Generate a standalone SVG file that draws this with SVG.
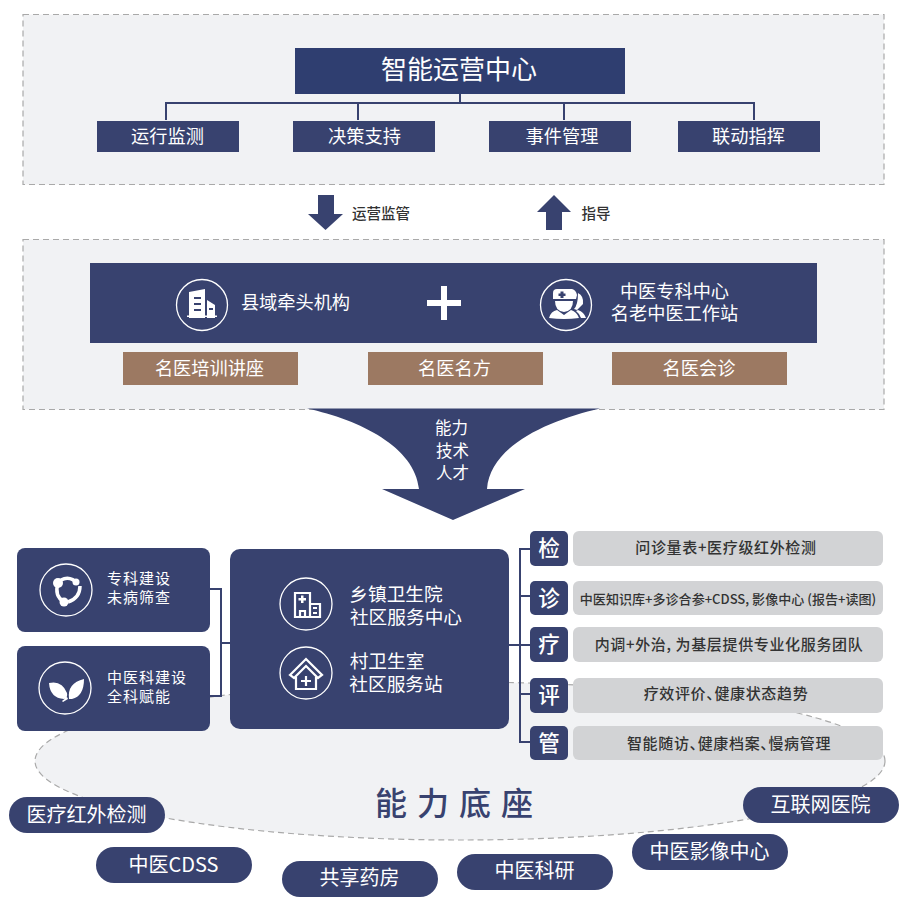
<svg xmlns="http://www.w3.org/2000/svg" width="912" height="916" viewBox="0 0 912 916">
<style>
text{font-family:"Noto Sans CJK SC","Noto Sans",sans-serif;text-anchor:middle;fill:#fff}
.panel{fill:#f1f2f4;stroke:#a9a9a9;stroke-width:1.2;stroke-dasharray:6 4}
.navy{fill:#38426f}
.brown{fill:#9c7962}
.grey{fill:#d2d3d5}
.conn{fill:none;stroke:#38426f;stroke-width:2}
.ring{fill:none;stroke:#fff;stroke-width:1.3}
.iconl{fill:none;stroke:#fff;stroke-width:2.2}
.iconf{fill:#fff}
.t18{font-size:18.200px}
.t187{font-size:18.700px}
.t15{font-size:15px;letter-spacing:1px}
.g{fill:#333;font-size:15px;font-weight:500;letter-spacing:.65px;font-feature-settings:"palt"}
.dk{fill:#333;font-size:13.050px;font-weight:500;font-feature-settings:"palt"}
.sq{font-size:21.500px;font-weight:500}
.pill{font-size:20px}
.lbl{fill:#333;font-size:14.500px;font-weight:500}
</style>
<rect class="panel" x="23" y="14.500" width="861" height="170"/>
<rect class="panel" x="23" y="239.500" width="861" height="170"/>
<ellipse class="panel" cx="460" cy="761" rx="425" ry="79"/>
<g id="connectors">
<path class="conn" d="M460 94V103M166 120V103H754V120M358 103V120M564 103V120"/>
<path class="conn" d="M210 589H221V696H210M221 643H230"/>
<path class="conn" d="M509 645H530M530 549H520V742H530M520 596H530M520 694H530"/>
</g>
<g id="monitor-arrow"><path class="navy" d="M318 195H334V214H343L325.500 230L308 214H318Z"/><text class="lbl" x="381" y="218.500">运营监管</text></g>
<g id="guide-arrow"><path class="navy" d="M554 195L571 212H562V230H546V212H537Z"/><text class="lbl" x="596" y="218.500">指导</text></g>
<g id="ops-center"><rect x="295" y="48" width="330" height="46" fill="#2f3e70"/><text x="459" y="78.500" font-size="26">智能运营中心</text></g>
<g id="ops-1"><rect class="navy" x="97" y="121" width="142" height="31"/><text class="t18" x="167.500" y="143">运行监测</text></g>
<g id="ops-2"><rect class="navy" x="293" y="121" width="142" height="31"/><text class="t18" x="364.500" y="143">决策支持</text></g>
<g id="ops-3"><rect class="navy" x="489" y="121" width="142" height="31"/><text class="t18" x="562" y="143">事件管理</text></g>
<g id="ops-4"><rect class="navy" x="678" y="121" width="142" height="31"/><text class="t18" x="748.500" y="143">联动指挥</text></g>
<g id="band"><rect class="navy" x="90" y="263" width="727" height="80"/>
<circle class="ring" cx="202" cy="305" r="25.500"/>
<path class="iconf" d="M189 292L205 289V318H189ZM207 300L215 305V318H207Z"/><rect class="iconf" x="187" y="315.500" width="30" height="1.500"/><path class="navy" d="M194 297H201V299H194ZM194 303H201V305H194ZM194 309H201V311H194ZM209 308H213V310H209Z"/>
<text class="t18" x="295.500" y="309">县域牵头机构</text>
<rect class="iconf" x="427" y="300" width="34" height="6"/><rect class="iconf" x="441" y="286" width="6" height="34"/>
<circle class="ring" cx="566" cy="305" r="25.500"/>
<path class="iconf" d="M553 293Q553 289 557 289H572Q576 290 577 295L576 299L553 299Z"/><path class="navy" d="M560.500 291.500H563.500V293.500H565.500V296H563.500V298H560.500V296H558.500V293.500H560.500Z"/>
<path class="iconf" d="M555 301H573Q573 311 564 312Q555 311 555 301ZM549 318Q551 311 557 310L564 315L571 310Q577 312 579 318Q564 320 549 318Z"/><path class="iconf" d="M578 293Q584 296 583 304L577 310L574 309Q578 305 578 293ZM578 310Q584 312 586 318H581Q580 314 576 311Z"/>
<text class="t18" x="674.500" y="298">中医专科中心</text><text class="t18" x="674.500" y="320">名老中医工作站</text></g>
<g id="brown-1"><rect class="brown" x="123" y="352" width="175" height="33"/><text class="t18" x="209.500" y="374.500">名医培训讲座</text></g>
<g id="brown-2"><rect class="brown" x="368" y="352" width="175" height="33"/><text class="t18" x="454.500" y="374.500">名医名方</text></g>
<g id="brown-3"><rect class="brown" x="612" y="352" width="175" height="33"/><text class="t18" x="699" y="374.500">名医会诊</text></g>
<g id="funnel"><path class="navy" d="M307 408.500H600C550 420 490 445 487 489H525L453 520L382 489H419C415 447 360 420 307 408.500Z"/>
<text x="451.500" y="434" font-size="16.500">能力</text><text x="452.500" y="456.500" font-size="16.500">技术</text><text x="452.500" y="479" font-size="16.500">人才</text></g>
<g id="left-1"><rect class="navy" x="17" y="548" width="193" height="84" rx="8"/><circle class="ring" cx="66" cy="590" r="26"/>
<path fill="none" stroke="#fff" stroke-width="3.500" d="M58 583Q54 596 64 602M61 580Q70 575 78 584M80 586Q80 598 68 602"/><circle class="iconf" cx="58" cy="583" r="5"/><circle class="iconf" cx="76" cy="582" r="3.500"/><circle class="iconf" cx="64" cy="602" r="4.500"/>
<text class="t15" x="139" y="584">专科建设</text><text class="t15" x="139" y="603">未病筛查</text></g>
<g id="left-2"><rect class="navy" x="17" y="646" width="193" height="85" rx="8"/><circle class="ring" cx="65" cy="688" r="26"/>
<path class="iconf" d="M49 683Q62 680 67 693Q68 698 64 699Q50 698 49 683ZM84 679Q84 696 72 699L69 699Q67 683 84 679ZM62 701L67 697L68 699L63 702Z"/>
<text class="t15" x="147" y="682.500">中医科建设</text><text class="t15" x="139" y="701.500">全科赋能</text></g>
<g id="center"><rect class="navy" x="230" y="549" width="279" height="180" rx="10"/>
<circle class="ring" cx="306" cy="604" r="26"/>
<path class="iconl" d="M295 617V593H310V617ZM310 604H320V617H310M300 617V611H305V617"/><path class="iconf" d="M301 595.500H303.500V598H306V600.500H303.500V603H301V600.500H298.500V598H301ZM313 607H317V609H313ZM313 612H317V614H313Z"/>
<circle class="ring" cx="306" cy="673" r="26"/>
<path class="iconl" d="M290 675L306 659L322 675L318 678L306 666L294 678ZM296 677V689H316V677M301 681H311M306 676V686"/>
<text class="t187" x="396" y="601">乡镇卫生院</text><text class="t187" x="406" y="624">社区服务中心</text>
<text class="t187" x="387" y="668">村卫生室</text><text class="t187" x="396" y="691">社区服务站</text></g>
<g id="row-1"><rect class="navy" x="530" y="531" width="38" height="35" rx="5"/><text class="sq" x="549" y="556">检</text><rect class="grey" x="573" y="531" width="310" height="35" rx="6"/><text class="g" x="726" y="553">问诊量表+医疗级红外检测</text></g>
<g id="row-2"><rect class="navy" x="530" y="581" width="38" height="34" rx="5"/><text class="sq" x="549" y="606">诊</text><rect class="grey" x="573" y="581" width="310" height="34" rx="6"/><text class="dk" x="728" y="604">中医知识库+多诊合参+CDSS, 影像中心 (报告+读图)</text></g>
<g id="row-3"><rect class="navy" x="530" y="627" width="38" height="35" rx="5"/><text class="sq" x="549" y="652">疗</text><rect class="grey" x="573" y="627" width="310" height="35" rx="6"/><text class="g" x="729" y="650">内调+外治, 为基层提供专业化服务团队</text></g>
<g id="row-4"><rect class="navy" x="530" y="678" width="38" height="35" rx="5"/><text class="sq" x="549" y="703">评</text><rect class="grey" x="573" y="678" width="310" height="35" rx="6"/><text class="g" x="726" y="699">疗效评价、健康状态趋势</text></g>
<g id="row-5"><rect class="navy" x="530" y="726" width="38" height="34" rx="5"/><text class="sq" x="549" y="751">管</text><rect class="grey" x="573" y="726" width="310" height="34" rx="6"/><text class="g" x="729" y="749">智能随访、健康档案、慢病管理</text></g>
<text x="459" y="815" font-size="32" font-weight="500" letter-spacing="10" style="fill:#38426f">能力底座</text>
<g id="pill-1"><rect class="navy" x="9" y="797" width="156" height="36" rx="18"/><text class="pill" x="86.500" y="822">医疗红外检测</text></g>
<g id="pill-2"><rect class="navy" x="96" y="847" width="156" height="36" rx="18"/><text class="pill" x="173.500" y="872">中医CDSS</text></g>
<g id="pill-3"><rect class="navy" x="282" y="861" width="156" height="36" rx="18"/><text class="pill" x="359.500" y="885">共享药房</text></g>
<g id="pill-4"><rect class="navy" x="457" y="854" width="156" height="36" rx="18"/><text class="pill" x="534.500" y="878">中医科研</text></g>
<g id="pill-5"><rect class="navy" x="632" y="834" width="156" height="36" rx="18"/><text class="pill" x="709.500" y="858.500">中医影像中心</text></g>
<g id="pill-6"><rect class="navy" x="743" y="787" width="156" height="36" rx="18"/><text class="pill" x="820.500" y="812">互联网医院</text></g>
</svg>
